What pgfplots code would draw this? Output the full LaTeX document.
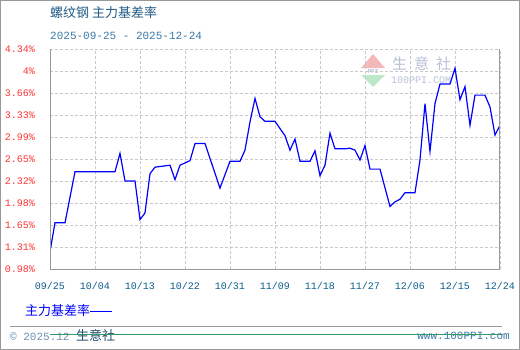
\documentclass[border=0pt]{standalone}
\usepackage{fontspec}
\setmainfont{Liberation Mono}
\newfontfamily\cjk{Noto Sans CJK SC}
\usepackage{pgfplots}
\pgfplotsset{compat=1.18}
\definecolor{titleblue}{HTML}{1F5A85}
\definecolor{subblue}{HTML}{3A78A8}
\definecolor{xlab}{HTML}{0B5C8A}
\definecolor{ylab}{HTML}{FF3333}
\definecolor{gridc}{HTML}{C8C8C8}
\definecolor{framec}{HTML}{999999}
\definecolor{footA}{HTML}{6F8FAF}
\definecolor{footB}{HTML}{1F4E6E}
\definecolor{footline}{HTML}{339966}
\definecolor{wmtext}{HTML}{B8C0D8}
\definecolor{wmpink}{HTML}{F4B8B8}
\definecolor{wmgreen}{HTML}{BDE8C8}
\begin{document}
\begin{tikzpicture}
\path[use as bounding box] (0bp,0bp) rectangle (520bp,-350bp);
\draw[framec, line width=1bp] (0.5bp,-0.5bp) rectangle (519.5bp,-349.5bp);
% title
\node[anchor=west, inner sep=0pt, text=titleblue, font=\cjk\fontsize{13bp}{15bp}\selectfont] at (50bp,-13bp) {螺纹钢 主力基差率};
\node[anchor=west, inner sep=0pt, text=subblue, font=\fontsize{11bp}{13bp}\selectfont] at (50bp,-36bp) {2025-09-25 - 2025-12-24};
% watermark
\fill[wmpink] (361bp,-68bp) -- (385bp,-68bp) -- (373bp,-54bp) -- cycle;
\fill[wmgreen] (361bp,-75bp) -- (385bp,-75bp) -- (373bp,-87bp) -- cycle;
\node[inner sep=0pt, text=wmtext, font=\bfseries\fontsize{6bp}{7bp}\selectfont] at (373bp,-71.5bp) {PPI};
\node[anchor=west, inner sep=0pt, text=wmtext, font=\cjk\fontsize{15bp}{17bp}\selectfont] at (392bp,-64bp) {生\hspace{7bp}意\hspace{7bp}社};
\node[anchor=west, inner sep=0pt, text=wmtext, font=\fontsize{10bp}{12bp}\selectfont] at (391bp,-80bp) {100PPI.COM};
\begin{axis}[
  at={(50bp,-269.3bp)}, anchor=south west,
  scale only axis, width=450bp, height=220bp,
  xmin=0, xmax=90, ymin=0.98, ymax=4.34,
  xtick={0,9,18,27,36,45,54,63,72,81,90},
  xticklabels={09/25,10/04,10/13,10/22,10/31,11/09,11/18,11/27,12/06,12/15,12/24},
  ytick={0.98,1.316,1.652,1.988,2.324,2.66,2.996,3.332,3.668,4.004,4.34},
  yticklabels={0.98\%,1.31\%,1.65\%,1.98\%,2.32\%,2.65\%,2.99\%,3.33\%,3.66\%,4\%,4.34\%},
  grid=major,
  major grid style={gridc, dash pattern=on 3bp off 2bp, line width=0.8bp},
  major tick length=0pt,
  axis line style={draw=none},
  tick label style={font=\fontsize{10bp}{12bp}\selectfont},
  yticklabel style={text=ylab, anchor=east, inner sep=0pt, xshift=-15bp},
  xticklabel style={text=xlab, anchor=north, inner sep=0pt, yshift=-13bp},
]
\addplot[blue, line width=1.2bp, sharp plot, mark=none] coordinates {
(0,1.25) (1,1.69) (3,1.69) (5,2.47) (13,2.47) (14,2.75) (15,2.33) (17,2.33)
(18,1.74) (19,1.84) (20,2.44) (21,2.54) (24,2.57) (25,2.35) (26,2.57) (28,2.64)
(29,2.90) (31,2.90) (34,2.22) (36,2.63) (38,2.63) (39,2.80) (40,3.23) (41,3.59) (42,3.31) (43,3.24)
(45,3.24) (47,3.02) (48,2.80) (49,2.97) (50,2.63) (52,2.63) (53,2.79) (54,2.41)
(55,2.57) (56,3.06) (57,2.82) (59,2.82) (60,2.83) (61,2.80) (62,2.65) (63,2.87)
(64,2.51) (66,2.51) (68,1.94) (69,2.01) (70,2.05) (71,2.15) (73,2.15) (74,2.65)
(75,3.51) (76,2.78) (77,3.51) (78,3.81) (80,3.81) (81,4.05) (82,3.57) (83,3.77)
(84,3.18) (85,3.64) (87,3.64) (88,3.46) (89,3.03) (90,3.18)
};
\draw[framec, line width=1bp] (rel axis cs:0,1) -- (rel axis cs:0,0) -- (rel axis cs:1,0) -- (rel axis cs:1,1);
\end{axis}
% legend
\node[anchor=west, inner sep=0pt, text=blue, font=\cjk\fontsize{13bp}{15bp}\selectfont] at (25bp,-311bp) {主力基差率};
\draw[blue, line width=1bp] (90bp,-311bp) -- (112bp,-311bp);
% footer
\draw[framec, line width=1bp] (10bp,-326bp) -- (502bp,-326bp);
\node[anchor=west, inner sep=0pt, font=\fontsize{11bp}{13bp}\selectfont] at (10bp,-335.5bp) {\textcolor{footA}{© 2025.12 }\textcolor{footB}{\cjk\fontsize{13bp}{15bp}\selectfont 生意社}};
\node[anchor=east, inner sep=0pt, text=subblue, font=\fontsize{11bp}{13bp}\selectfont] at (510bp,-336bp) {www.100PPI.com};
\draw[footline, line width=0.8bp] (50bp,-334bp) -- (503bp,-334bp);
\end{tikzpicture}
\end{document}
